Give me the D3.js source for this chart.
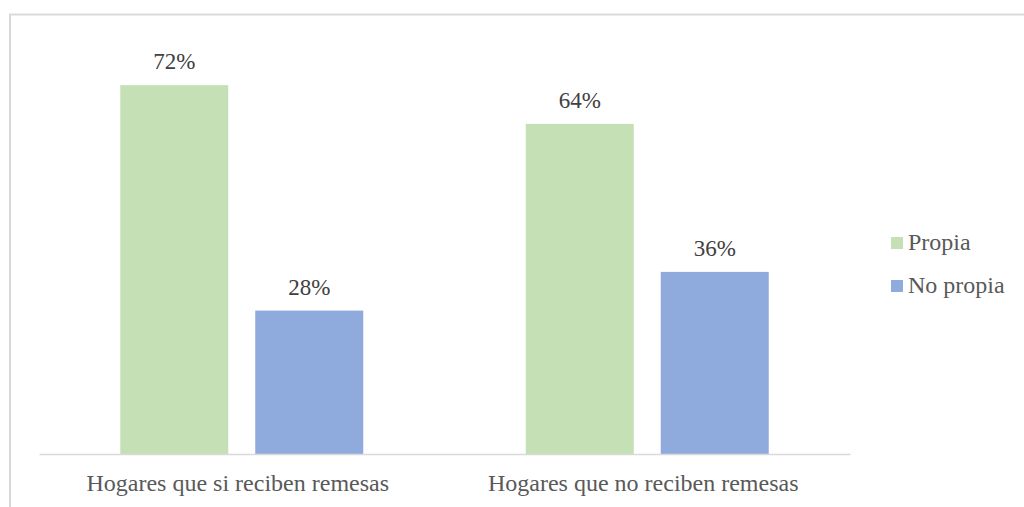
<!DOCTYPE html>
<html>
<head>
<meta charset="utf-8">
<script src="https://cdn.jsdelivr.net/npm/d3@7"></script>
<style>
  html, body { margin: 0; padding: 0; background: #fff; }
  svg { display: block; }
</style>
</head>
<body>
<div id="chart"></div>
<script>
const categories = ["Hogares que si reciben remesas", "Hogares que no reciben remesas"];
const seriesNames = ["Propia", "No propia"];
const propia = [0.72, 0.6445];
const noPropia = [0.28, 0.3555];
const colors = ["#c5e0b4", "#8faadc"];

const W = 1024, H = 507;
const svg = d3.select("#chart").append("svg").attr("width", W).attr("height", H);

// chart border
svg.append("rect")
  .attr("x", 10).attr("y", 14.5)
  .attr("width", 1040).attr("height", 520)
  .attr("fill", "none").attr("stroke", "#d9d9d9").attr("stroke-width", 2);

const plot = { left: 39, right: 850, top: 44.2, bottom: 454 };

const x0 = d3.scaleBand().domain(categories).range([plot.left, plot.right]).paddingInner(0).paddingOuter(0);
const x1 = d3.scaleBand().domain(seriesNames).range([0, x0.bandwidth()]).paddingInner(0.2).paddingOuter(0.602);
const y = d3.scaleLinear().domain([0, 0.8]).range([plot.bottom, plot.top]);

const data = categories.map((c, i) => ({
  cat: c,
  values: [ { s: seriesNames[0], v: propia[i] }, { s: seriesNames[1], v: noPropia[i] } ]
}));

const fmt = d3.format(".0%");
const font = "'Liberation Serif', 'Times New Roman', serif";

const groups = svg.append("g").selectAll("g").data(data).join("g")
  .attr("transform", d => `translate(${x0(d.cat)},0)`);

groups.selectAll("rect").data(d => d.values).join("rect")
  .attr("x", d => x1(d.s))
  .attr("y", d => y(d.v))
  .attr("width", x1.bandwidth())
  .attr("height", d => y(0) - y(d.v))
  .attr("fill", (d, i) => colors[i]);

groups.selectAll("text").data(d => d.values).join("text")
  .attr("x", d => x1(d.s) + x1.bandwidth() / 2)
  .attr("y", d => y(d.v) - 16)
  .attr("text-anchor", "middle")
  .attr("font-family", font)
  .attr("font-size", 23)
  .attr("fill", "#404040")
  .text(d => fmt(d.v));

// x axis
const xAxis = d3.axisBottom(x0).tickSize(0).tickPadding(0);
const ax = svg.append("g").attr("transform", `translate(0,${plot.bottom})`).call(xAxis);
ax.select(".domain").attr("stroke", "#d9d9d9").attr("stroke-width", 1.5);
ax.selectAll(".tick text")
  .attr("font-family", font)
  .attr("font-size", 24)
  .attr("fill", "#595959")
  .attr("dy", 0)
  .attr("y", 37)
  .attr("dx", -4);

// legend
const legend = svg.append("g").selectAll("g").data(seriesNames).join("g")
  .attr("transform", (d, i) => `translate(891,${237 + i * 43})`);
legend.append("rect").attr("width", 12).attr("height", 12).attr("fill", (d, i) => colors[i]);
legend.append("text")
  .attr("x", 17).attr("y", 13)
  .attr("font-family", font)
  .attr("font-size", 24)
  .attr("fill", "#595959")
  .text(d => d);
</script>
</body>
</html>
